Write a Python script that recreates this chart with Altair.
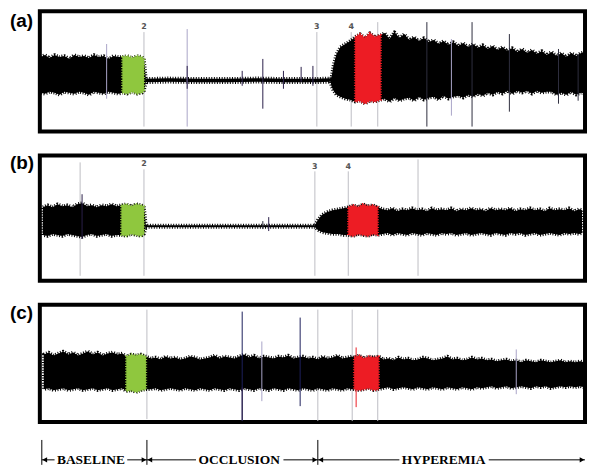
import altair as alt
import pandas as pd

# ---------------- Panel (a) ----------------
a_t = [40,44,49,54,59,64,69,74,79,84,89,94,99,104,109,114,119,
       123,128,133,138,143,145,
       147,170,200,230,260,290,320,335,
       336,338,341,345,350,355,
       360,365,370,375,380,386,
       390,395,400,405,410,415,420,425,430,435,440,445,450,455,460,465,470,475,480,485,
       490,495,500,505,510,515,520,525,530,535,540,545,550,555,560,565,570,575,580,585,590,
       594]
a_hi = [14,16,13,16,14,15,12,16,14,15,13,16,14,15,12,15,14,
        14,15,13,15,14,12,
        -8,-7.5,-8,-8,-7.5,-8,-8,-7.5,
        -6,6,17,24,27,30,
        34,37,33,38,34,36,
        38,32,39,33,37,31,34,30,33,29,31,27,30,26,29,25,28,24,27,23,
        26,22,25,21,24,20,23,19,22,18,21,17,20,16,19,15,18,14,18,15,18,
        19]
a_lo = [-22,-23,-21,-22,-24,-21,-22,-23,-21,-22,-24,-21,-22,-23,-21,-22,-23,
        -22,-23,-21,-23,-22,-20,
        -11.5,-11,-11.5,-11.5,-11,-11.5,-11.5,-11,
        -16,-20,-24,-26,-28,-29,
        -31,-30,-33,-30,-31,-29,
        -28,-31,-27,-30,-28,-27,-30,-26,-29,-27,-26,-29,-25,-28,-26,-25,-27,-24,-26,-23,
        -25,-22,-24,-21,-23,-20,-23,-20,-22,-20,-23,-20,-22,-21,-21,-24,-22,-24,-21,-24,-22,
        -23]
a_rule_t = [145,321,356,383, 107,189,458, 433,479,517,567,587, 189,245,266,287,305,317]
a_rule_top = [39,39,39,49, 27,42,32, 49,49,37,22,17, 5,0,12,0,4,5]
a_rule_bot = [-56,-56,-56,-56, -28,-56,-45, -56,-56,-41,-33,-30, -18,-15,-38,-18,-11,-15]
a_rule_kind = ["marker"]*4 + ["light"]*3 + ["spike"]*5 + ["burst"]*6
a_num_t = [145,321,356]
a_num_y = [44,44,44]
a_num_text = ["2","3","4"]

# ---------------- Panel (b) ----------------
b_t = [42,47,52,57,62,67,72,77,82,87,92,97,102,107,112,117,
       122,127,132,137,142,145,
       147,200,250,300,319,
       322,326,331,337,343,348,
       353,358,363,368,373,378,383,
       388,393,398,403,408,413,418,423,428,433,
       438,443,448,453,458,463,468,473,478,483,
       488,493,498,503,508,513,518,523,528,533,
       538,543,548,553,558,563,568,573,578,583,
       588,591]
b_hi = [11,13,11,14,12,13,11,14,15,12,13,11,13,12,14,12,
        13,14,12,14,13,12,
        -7.5,-7.5,-7.5,-7.5,-7.5,
        -2,3,6,8,9,10,
        11,13,11,14,12,13,11,
        9,8,10,7,9,8,10,8,9,7,
        10,8,9,8,10,7,9,8,10,8,
        9,7,10,8,9,8,10,7,9,8,
        10,8,9,7,10,8,9,8,10,7,
        9,8]
b_lo = [-17,-18,-16,-17,-18,-16,-17,-18,-19,-17,-16,-18,-17,-16,-18,-17,
        -17,-18,-16,-17,-18,-16,
        -9,-9,-9,-9,-9,
        -12,-14,-15,-16,-16,-17,
        -17,-18,-16,-17,-18,-16,-17,
        -16,-15,-17,-15,-16,-17,-15,-16,-17,-15,
        -16,-17,-15,-16,-15,-17,-16,-15,-17,-16,
        -15,-16,-17,-15,-16,-17,-15,-16,-15,-17,
        -16,-15,-17,-16,-15,-16,-17,-15,-16,-15,
        -16,-15]
b_rule_t = [80,145,319,353,424, 82,272, 266]
b_rule_top = [56,49,47,47,59, 24,1, -3]
b_rule_bot = [-58,-58,-58,-58,-58, -21,-13, -11]
b_rule_kind = ["marker"]*5 + ["burst"]*2 + ["spike"]
b_num_t = [145,319,353]
b_num_y = [54,51,51]
b_num_text = ["2","3","4"]

# ---------------- Panel (c) ----------------
c_t = [43,48,53,58,63,68,73,78,83,88,93,98,103,108,113,118,123,
       127,132,137,142,147,
       152,157,162,167,172,177,182,187,192,197,
       202,207,212,217,222,227,232,237,242,247,
       252,257,262,267,272,277,282,287,292,297,
       302,307,312,317,322,327,332,337,342,347,
       352,357,
       359,364,369,374,379,384,
       389,394,399,404,409,414,419,424,429,434,
       439,444,449,454,459,464,469,474,479,484,
       489,494,499,504,509,514,519,524,529,534,
       539,544,549,554,559,564,569,574,579,584,
       589,593]
c_hi = [10,12,9,11,13,10,12,9,11,13,10,12,9,11,12,10,11,
        8,10,9,10,8,
        6,7,5,8,6,7,5,6,8,7,
        5,6,7,9,6,8,7,6,8,10,
        7,9,6,8,7,6,8,7,9,6,
        7,8,6,7,5,8,6,7,9,6,
        7,8,
        7,9,6,8,7,8,
        5,6,4,7,5,6,4,5,7,6,
        4,5,6,8,5,6,4,5,7,5,
        6,4,5,3,4,5,3,4,2,4,
        3,2,4,3,2,3,4,2,3,2,
        3,2]
c_lo = [-25,-24,-26,-25,-24,-26,-25,-24,-26,-25,-24,-26,-25,-24,-26,-25,-24,
        -27,-26,-28,-26,-25,
        -25,-24,-26,-25,-24,-25,-26,-24,-25,-26,
        -24,-25,-26,-24,-25,-26,-24,-25,-26,-24,
        -25,-26,-24,-25,-26,-24,-25,-26,-24,-25,
        -26,-24,-25,-26,-24,-25,-26,-24,-25,-26,
        -24,-25,
        -25,-26,-25,-24,-26,-25,
        -24,-23,-25,-24,-23,-24,-25,-23,-24,-25,
        -23,-24,-25,-23,-24,-25,-23,-24,-25,-23,
        -24,-23,-22,-24,-23,-22,-24,-23,-22,-23,
        -24,-22,-23,-22,-24,-23,-22,-23,-22,-23,
        -22,-23]
c_rule_t = [148,322,357,383, 245,304, 245, 265,524, 361]
c_rule_top = [55,55,55,55, 53,47, -23, 23,15, 17]
c_rule_bot = [-55,-57,-57,-57, -57,-42, -57, -37,-30, -43]
c_rule_kind = ["marker"]*4 + ["navy"]*2 + ["burst"] + ["light"]*2 + ["red"]

# ---------------- Phase annotation (below panel c) ----------------
phase_names = ["BASELINE", "OCCLUSION", "HYPEREMIA"]
phase_text_t = [91, 242, 450]
phase_bounds = [41, 148, 322]
seg_t = [41, 128, 148, 287, 322, 496]
seg_t2 = [54, 148, 198, 322, 405, 594]
arrow_t = [44, 145, 151, 319, 325, 591]
arrow_dir = ["triangle-left", "triangle-right", "triangle-left",
             "triangle-right", "triangle-left", "triangle-right"]

GREEN = "#8fc73e"
RED = "#ed1c24"
kinds = ["marker", "light", "spike", "burst", "navy", "red"]
kind_colors = ["#bdbdc4", "#a9a4c8", "#2e2e3e", "#2a1f4a", "#1c1f5c", RED]
kind_widths = [1, 1, 1.2, 2.5, 1.5, 1.5]

W = 548
xs = alt.Scale(domain=[39, 594])


def panel(t, hi, lo, green, red, rt, rtop, rbot, rkind, label, ydom, height, label_y,
          nums=None, extra=None):
    ys = alt.Scale(domain=ydom)
    df = pd.DataFrame({"t": t, "hi": hi, "lo": lo})
    rdf = pd.DataFrame({"t": rt, "top": rtop, "bot": rbot, "kind": rkind})
    X = alt.X("t:Q", scale=xs, axis=None)
    base = alt.Chart(df).encode(x=X, y=alt.Y("hi:Q", scale=ys, axis=None), y2="lo:Q")
    rule_enc = dict(
        x=X,
        y=alt.Y("top:Q", scale=ys, axis=None),
        y2="bot:Q",
        color=alt.Color("kind:N", scale=alt.Scale(domain=kinds, range=kind_colors), legend=None),
        strokeWidth=alt.StrokeWidth("kind:N", scale=alt.Scale(domain=kinds, range=kind_widths), legend=None),
    )
    markers = alt.Chart(rdf).transform_filter(alt.datum.kind == "marker").mark_rule().encode(**rule_enc)
    others = alt.Chart(rdf).transform_filter(alt.datum.kind != "marker").mark_rule().encode(**rule_enc)
    fuzz = dict(interpolate="linear", strokeDash=[1, 1.6], strokeJoin="round", clip=True)
    black = base.mark_area(color="black", stroke="black", strokeWidth=3.5, **fuzz)
    g = base.transform_filter((alt.datum.t >= green[0]) & (alt.datum.t <= green[1])).mark_area(
        color=GREEN, stroke=GREEN, strokeWidth=2.5, **fuzz)
    r = base.transform_filter((alt.datum.t >= red[0]) & (alt.datum.t <= red[1])).mark_area(
        color=RED, stroke=RED, strokeWidth=2.5, **fuzz)
    lab = alt.Chart(pd.DataFrame({"label": [label]})).mark_text(
        align="left", baseline="middle", font="Liberation Sans", fontWeight="bold",
        fontSize=19, color="black").encode(text="label:N", x=alt.value(-30), y=alt.value(label_y))
    layers = [markers, black, g, r, others, lab]
    if nums is not None:
        ndf = pd.DataFrame({"t": nums[0], "y": nums[1], "txt": nums[2]})
        layers.append(alt.Chart(ndf).mark_text(fontSize=8, font="DejaVu Sans", fontWeight="bold",
                                               color="#555555").encode(
            x=X, y=alt.Y("y:Q", scale=ys, axis=None), text="txt:N"))
    if extra is not None:
        layers += extra(ys, X)
    return alt.layer(*layers).properties(width=W, height=height)


def phase_layers(ys, X):
    tick_df = pd.DataFrame({"t": phase_bounds, "top": [-76]*3, "bot": [-101]*3})
    seg_df = pd.DataFrame({"t": seg_t, "t2": seg_t2, "y": [-96]*6})
    arr_df = pd.DataFrame({"t": arrow_t, "y": [-96]*6, "dir": arrow_dir})
    txt_df = pd.DataFrame({"t": phase_text_t, "y": [-96]*3, "name": phase_names})
    ticks = alt.Chart(tick_df).mark_rule(color="black", strokeWidth=1).encode(
        x=X, y=alt.Y("top:Q", scale=ys, axis=None), y2="bot:Q")
    segs = alt.Chart(seg_df).mark_rule(color="black", strokeWidth=1).encode(
        x=X, x2="t2:Q", y=alt.Y("y:Q", scale=ys, axis=None))
    arrows = alt.Chart(arr_df).mark_point(filled=True, color="black", size=30, opacity=1).encode(
        x=X, y=alt.Y("y:Q", scale=ys, axis=None),
        shape=alt.Shape("dir:N", scale=alt.Scale(domain=["triangle-left", "triangle-right"],
                                                 range=["triangle-left", "triangle-right"]),
                        legend=None))
    texts = alt.Chart(txt_df).mark_text(font="Liberation Serif", fontWeight="bold", fontSize=13.5,
                                        baseline="middle", color="black").encode(
        x=X, y=alt.Y("y:Q", scale=ys, axis=None), text="name:N")
    return [ticks, segs, arrows, texts]


pa = panel(a_t, a_hi, a_lo, (123, 145), (360, 386), a_rule_t, a_rule_top, a_rule_bot, a_rule_kind,
           "(a)", [-61, 60], 121, 10, nums=(a_num_t, a_num_y, a_num_text))
pb = panel(b_t, b_hi, b_lo, (122, 145), (353, 383), b_rule_t, b_rule_top, b_rule_bot, b_rule_kind,
           "(b)", [-63, 63], 126, 8, nums=(b_num_t, b_num_y, b_num_text))
pc = panel(c_t, c_hi, c_lo, (127, 147), (359, 384), c_rule_t, c_rule_top, c_rule_bot, c_rule_kind,
           "(c)", [-58, 60], 118, 8, extra=phase_layers)

chart = alt.vconcat(pa, pb, pc, spacing=19).properties(
    padding={"left": 0, "top": 0, "right": 0, "bottom": 0}
).configure_view(stroke="black", strokeWidth=4)

chart.save("out.html", embed_options={"renderer": "svg", "actions": False})
